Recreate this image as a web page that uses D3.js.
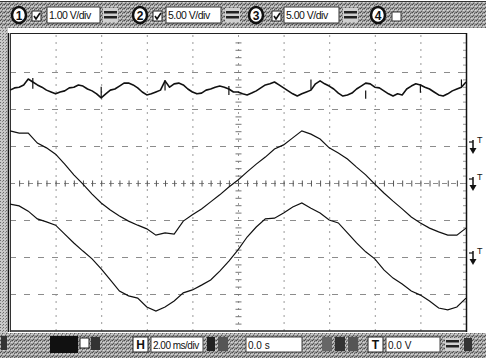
<!DOCTYPE html>
<html><head><meta charset="utf-8">
<script src="https://cdn.jsdelivr.net/npm/d3@7"></script>
<style>
html,body{margin:0;padding:0;background:#fff;}
svg{display:block;}
text{font-family:"Liberation Sans",Arial,sans-serif;}
</style></head>
<body>
<script>
// ---- data (vertical values in screen divisions, time in ms) ----
const ch1Step = 0.2; // ms per sample
const ch1 = [2.51,2.57,2.59,2.65,2.81,2.73,2.65,2.59,2.51,2.46,2.41,2.46,2.49,2.57,2.59,2.65,2.62,2.54,2.49,2.41,
 2.30,2.41,2.51,2.54,2.62,2.70,2.70,2.65,2.57,2.46,2.38,2.41,2.46,2.51,2.76,2.59,2.68,2.70,2.65,2.54,
 2.46,2.41,2.43,2.51,2.54,2.59,2.62,2.59,2.54,2.46,2.46,2.41,2.38,2.43,2.49,2.57,2.65,2.68,2.73,2.65,
 2.57,2.49,2.41,2.35,2.41,2.46,2.51,2.68,2.76,2.68,2.62,2.54,2.43,2.35,2.38,2.43,2.54,2.62,2.70,2.68,
 2.59,2.57,2.49,2.41,2.35,2.41,2.38,2.54,2.62,2.68,2.65,2.59,2.54,2.46,2.38,2.35,2.41,2.49,2.54,2.59,2.73];
// short noise spikes on channel 1: [time ms, top div, bottom div]
const ch1Spikes = [[1.0,2.84,2.55],[4.0,2.60,2.32],[6.8,2.78,2.50],[9.6,2.62,2.38],[13.2,2.80,2.52],[15.6,2.50,2.28],[18.0,2.66,2.44],[19.8,2.80,2.60]];
const ch23Step = 0.4; // ms per sample
const ch2 = [1.41,1.35,1.35,1.08,0.95,0.78,0.51,0.22,-0.03,-0.30,-0.54,-0.73,-0.89,-1.03,-1.14,-1.24,-1.41,-1.35,-1.38,-1.03,
 -0.86,-0.70,-0.51,-0.32,-0.11,0.08,0.30,0.51,0.70,0.92,1.03,1.22,1.41,1.32,1.19,0.95,0.81,0.65,0.43,0.22,
 -0.03,-0.27,-0.49,-0.70,-0.92,-1.08,-1.22,-1.32,-1.41,-1.41,-1.22];
const ch3 = [-0.57,-0.62,-0.76,-0.97,-1.05,-1.14,-1.38,-1.62,-1.84,-2.05,-2.32,-2.62,-2.92,-3.05,-3.11,-3.35,-3.46,-3.35,-3.19,-2.97,
 -2.89,-2.76,-2.62,-2.38,-2.11,-1.81,-1.46,-1.19,-0.97,-0.95,-0.81,-0.65,-0.54,-0.68,-0.81,-1.00,-1.08,-1.35,-1.62,-1.86,
 -2.05,-2.35,-2.57,-2.73,-2.92,-3.03,-3.19,-3.38,-3.43,-3.35,-3.11];
const markerLevels = [1.0, 0.0, -2.0];
const channelNames = ["1","2","3","4"];
const voltsPerDiv = ["1.00 V/div","5.00 V/div","5.00 V/div"];
const timeBase = "2.00 ms/div";
const delayText = "0.0 s";
const trigText = "0.0 V";

// ---- layout ----
const W = 486, H = 358;
const svg = d3.select("body").append("svg").attr("width", W).attr("height", H);
const defs = svg.append("defs");
const pat = defs.append("pattern").attr("id","dith").attr("width",4).attr("height",4).attr("patternUnits","userSpaceOnUse");
pat.append("rect").attr("width",4).attr("height",4).attr("fill","#a2a2a2");
[[0,0,"#4a4a4a"],[2,1,"#5e5e5e"],[1,3,"#555"],[3,2,"#d8d8d8"],[1,1,"#cfcfcf"],[3,0,"#777"],[0,2,"#c4c4c4"]].forEach(p =>
  pat.append("rect").attr("x",p[0]).attr("y",p[1]).attr("width",1).attr("height",1).attr("fill",p[2]));
const pat2 = defs.append("pattern").attr("id","dith2").attr("width",3).attr("height",3).attr("patternUnits","userSpaceOnUse");
pat2.append("rect").attr("width",3).attr("height",3).attr("fill","#c8c8c8");
pat2.append("rect").attr("x",0).attr("y",0).attr("width",1).attr("height",1).attr("fill","#6a6a6a");
pat2.append("rect").attr("x",2).attr("y",1).attr("width",1).attr("height",1).attr("fill","#888");

const x = d3.scaleLinear().domain([0, 20]).range([10, 466]);
const y = d3.scaleLinear().domain([-4, 4]).range([331, 35]);

// background
svg.append("rect").attr("width",W).attr("height",H).attr("fill","#fff");
// top toolbar
svg.append("rect").attr("x",0).attr("y",1).attr("width",W).attr("height",27).attr("fill","url(#dith)");
svg.append("line").attr("x1",0).attr("x2",W).attr("y1",1.5).attr("y2",1.5).attr("stroke","#333").attr("stroke-width",1);
// left strip
svg.append("rect").attr("x",0).attr("y",28).attr("width",8).attr("height",306).attr("fill","url(#dith2)");
// bottom toolbar
svg.append("rect").attr("x",0).attr("y",333).attr("width",W).attr("height",25).attr("fill","url(#dith)");

// ---- grid ----
const g = svg.append("g");
const xt = d3.range(2, 20, 2), yt = d3.range(-3, 4, 1);
g.selectAll(".gv").data(xt).join("line")
  .attr("x1", d => x(d)+0.5).attr("x2", d => x(d)+0.5).attr("y1", y(4)).attr("y2", y(-4))
  .attr("stroke", "#9a9a9a").attr("stroke-width", 1).attr("stroke-dasharray", "2,5");
g.selectAll(".gh").data(yt).join("line")
  .attr("y1", d => y(d)+0.5).attr("y2", d => y(d)+0.5).attr("x1", x(0)).attr("x2", x(20))
  .attr("stroke", "#8c8c8c").attr("stroke-width", 1).attr("stroke-dasharray", d => d===0 ? "5,4" : "6,8");
// minor ticks on centre lines
const mx = d3.range(0.4, 20, 0.4);
g.selectAll(".mx").data(mx).join("line")
  .attr("x1", d => x(d)+0.5).attr("x2", d => x(d)+0.5).attr("y1", y(0)-2.5).attr("y2", y(0)+3.5)
  .attr("stroke", "#555").attr("stroke-width", 1);
const my = d3.range(-3.8, 4, 0.2);
g.selectAll(".my").data(my).join("line")
  .attr("y1", d => y(d)+0.5).attr("y2", d => y(d)+0.5).attr("x1", x(10)-2.5).attr("x2", x(10)+3.5)
  .attr("stroke", "#777").attr("stroke-width", 1);
g.selectAll(".ry").data(my).join("line")
  .attr("y1", d => y(d)+0.5).attr("y2", d => y(d)+0.5).attr("x1", x(20)-3).attr("x2", x(20))
  .attr("stroke", "#999").attr("stroke-width", 1);

// border
svg.append("line").attr("x1",x(0)).attr("x2",x(20)).attr("y1",y(4)-1.5).attr("y2",y(4)-1.5).attr("stroke","#222").attr("stroke-width",1.2);
svg.append("line").attr("x1",x(0)).attr("x2",x(20)).attr("y1",y(-4)).attr("y2",y(-4)).attr("stroke","#222").attr("stroke-width",1.5);
svg.append("line").attr("x1",x(20)+0.5).attr("x2",x(20)+0.5).attr("y1",y(4)-2).attr("y2",y(-4)+1).attr("stroke","#111").attr("stroke-width",1.5);
svg.append("line").attr("x1",8.5).attr("x2",8.5).attr("y1",y(4)-2).attr("y2",y(-4)+1).attr("stroke","#111").attr("stroke-width",1.5);
svg.append("line").attr("x1",10.5).attr("x2",10.5).attr("y1",y(4)-2).attr("y2",y(-4)+1).attr("stroke","#333").attr("stroke-width",1);

// ---- traces ----
const line1 = d3.line().x((d,i) => x(i*ch1Step)).y(d => y(d));
const line23 = d3.line().x((d,i) => x(i*ch23Step)).y(d => y(d));
svg.append("path").attr("d", line1(ch1)).attr("fill","none").attr("stroke","#111").attr("stroke-width",1.6).attr("stroke-linejoin","round");
svg.append("g").selectAll("line").data(ch1Spikes).join("line")
  .attr("x1", d => x(d[0])).attr("x2", d => x(d[0])).attr("y1", d => y(d[1])).attr("y2", d => y(d[2]))
  .attr("stroke","#111").attr("stroke-width",1.2);
svg.append("path").attr("d", line23(ch2)).attr("fill","none").attr("stroke","#111").attr("stroke-width",1.2);
svg.append("path").attr("d", line23(ch3)).attr("fill","none").attr("stroke","#111").attr("stroke-width",1.2);

// ---- trigger/level markers on right ----
const mk = svg.append("g").selectAll("g").data(markerLevels).join("g")
  .attr("transform", d => `translate(${x(20)+7},${y(d)})`);
mk.append("line").attr("x1",0).attr("x2",0).attr("y1",-6).attr("y2",4).attr("stroke","#111").attr("stroke-width",1.5);
mk.append("path").attr("d","M-3.5,2 L3.5,2 L0,8 Z").attr("fill","#111");
mk.append("line").attr("x1",-4).attr("x2",0).attr("y1",-4).attr("y2",-4).attr("stroke","#111").attr("stroke-width",1.2);
mk.append("text").attr("x",4).attr("y",-3).attr("font-size",9).attr("fill","#111").text("T");

// ---- top toolbar widgets ----
const tb = svg.append("g");
const chanX = [19, 140, 256, 378];
chanX.forEach((cx, i) => {
  tb.append("ellipse").attr("cx",cx).attr("cy",15).attr("rx",7).attr("ry",8).attr("fill","#fff").attr("stroke","#111").attr("stroke-width",2.5);
  tb.append("text").attr("x",cx).attr("y",19.5).attr("text-anchor","middle").attr("font-size",12).attr("font-weight","bold").attr("fill","#111").text(channelNames[i]);
});
const boxX = [[47,100],[166,221],[284,339]];
const chkX = [32, 153, 272];
const spinX = [103, 225, 343];
voltsPerDiv.forEach((t,i) => {
  tb.append("rect").attr("x",chkX[i]).attr("y",11).attr("width",9).attr("height",10).attr("fill","#fff").attr("stroke","#222");
  tb.append("path").attr("d",`M${chkX[i]+2},${16} l2,3 l4,-6`).attr("fill","none").attr("stroke","#111").attr("stroke-width",1.6);
  tb.append("rect").attr("x",boxX[i][0]).attr("y",7).attr("width",boxX[i][1]-boxX[i][0]).attr("height",16).attr("fill","#fff").attr("stroke","#333").attr("stroke-width",1);
  tb.append("text").attr("x",boxX[i][0]+2).attr("y",19).attr("font-size",10.5).attr("letter-spacing","-0.5").attr("fill","#111").text(t);
  const s = tb.append("g").attr("transform",`translate(${spinX[i]},8)`);
  s.append("rect").attr("width",15).attr("height",14).attr("fill","#d0d0d0");
  s.append("rect").attr("x",1).attr("y",3).attr("width",13).attr("height",2.5).attr("fill","#222");
  s.append("rect").attr("x",1).attr("y",8).attr("width",13).attr("height",2.5).attr("fill","#222");
});
tb.append("rect").attr("x",392).attr("y",12).attr("width",9).attr("height",9).attr("fill","#fff").attr("stroke","#333");

// ---- bottom toolbar widgets ----
const bb = svg.append("g");
bb.append("rect").attr("x",1).attr("y",336).attr("width",6).attr("height",14).attr("fill","#333");
bb.append("rect").attr("x",50).attr("y",336).attr("width",28).attr("height",17).attr("fill","#111");
bb.append("rect").attr("x",80).attr("y",338).attr("width",9).attr("height",10).attr("fill","#fff").attr("stroke","#222");
bb.append("rect").attr("x",91).attr("y",337).attr("width",9).attr("height",13).attr("fill","#333");
bb.append("rect").attr("x",133).attr("y",337).attr("width",15).attr("height",15).attr("fill","#fff").attr("stroke","#222");
bb.append("text").attr("x",140.5).attr("y",349).attr("text-anchor","middle").attr("font-size",12).attr("font-weight","bold").attr("fill","#111").text("H");
bb.append("rect").attr("x",151).attr("y",337).attr("width",52).attr("height",15).attr("fill","#fff").attr("stroke","#444");
bb.append("text").attr("x",153).attr("y",348.5).attr("font-size",10).attr("letter-spacing","-0.5").attr("fill","#111").text(timeBase);
bb.append("rect").attr("x",207).attr("y",337).attr("width",8).attr("height",14).attr("fill","#222");
bb.append("rect").attr("x",218).attr("y",337).attr("width",10).attr("height",14).attr("fill","#555");
bb.append("rect").attr("x",246).attr("y",337).attr("width",56).attr("height",15).attr("fill","#fff").attr("stroke","#444");
bb.append("text").attr("x",248).attr("y",348.5).attr("font-size",10).attr("fill","#111").text(delayText);
bb.append("rect").attr("x",322).attr("y",337).attr("width",10).attr("height",14).attr("fill","#666");
bb.append("rect").attr("x",335).attr("y",337).attr("width",10).attr("height",14).attr("fill","#333");
bb.append("rect").attr("x",348).attr("y",337).attr("width",10).attr("height",14).attr("fill","#555");
bb.append("rect").attr("x",368).attr("y",337).attr("width",15).attr("height",15).attr("fill","#fff").attr("stroke","#222");
bb.append("text").attr("x",375.5).attr("y",349).attr("text-anchor","middle").attr("font-size",12).attr("font-weight","bold").attr("fill","#111").text("T");
bb.append("rect").attr("x",386).attr("y",337).attr("width",54).attr("height",15).attr("fill","#fff").attr("stroke","#444");
bb.append("text").attr("x",388).attr("y",348.5).attr("font-size",10).attr("fill","#111").text(trigText);
bb.append("rect").attr("x",445).attr("y",338).attr("width",15).attr("height",13).attr("fill","#d0d0d0");
bb.append("rect").attr("x",446).attr("y",340).attr("width",13).attr("height",2.5).attr("fill","#222");
bb.append("rect").attr("x",446).attr("y",345).attr("width",13).attr("height",2.5).attr("fill","#222");
bb.append("rect").attr("x",464).attr("y",338).attr("width",8).attr("height",13).attr("fill","#333");
</script>
</body></html>
